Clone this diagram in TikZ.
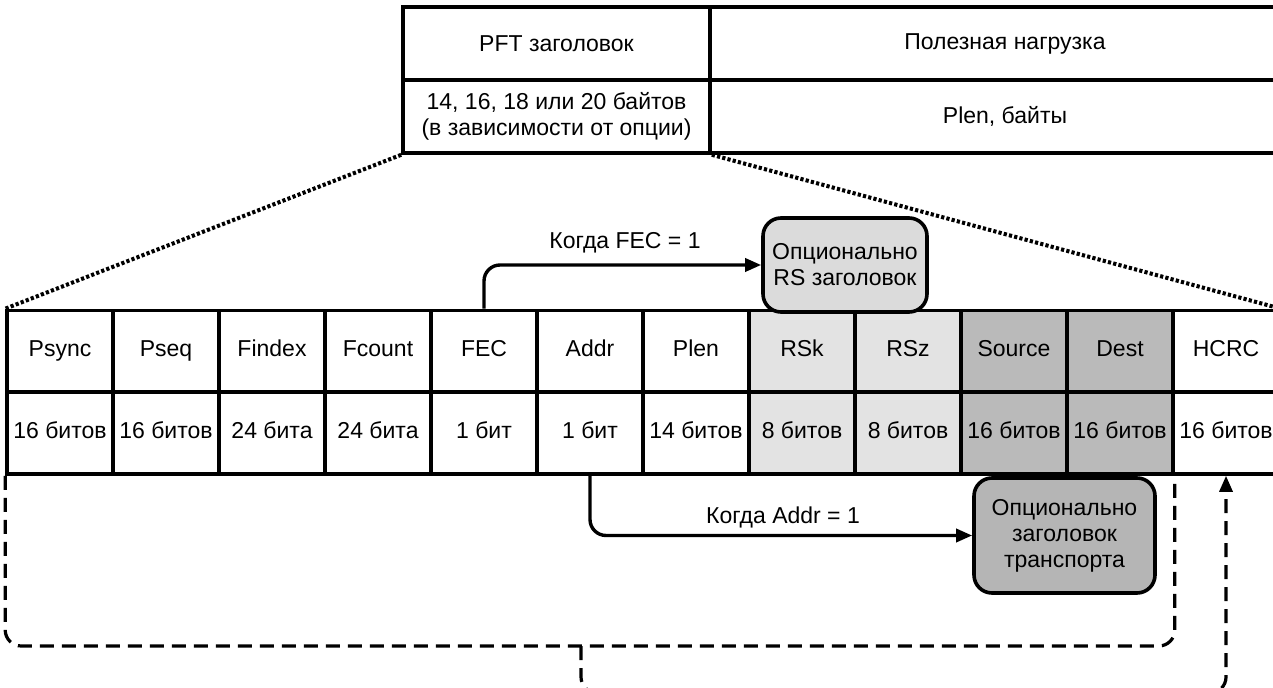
\documentclass[tikz,border=0pt]{standalone}
\usepackage{fontspec}
\setmainfont{Liberation Sans}
\usepackage{xcolor}
\usetikzlibrary{arrows.meta}
\definecolor{rscell}{gray}{0.89}
\definecolor{trcell}{gray}{0.73}
\definecolor{rsfill}{gray}{0.86}
\definecolor{trfill}{gray}{0.71}

\begin{document}
\begin{tikzpicture}[x=0.5pt,y=-0.5pt,
    font=\fontsize{11.5}{13}\selectfont,
    cell/.style={draw,line width=1.8pt,minimum width=53pt,minimum height=41pt,inner sep=0pt,align=center},
    field/.style={cell,text height=8pt,text depth=2.5pt},
    optbox/.style={draw,line width=1.8pt,rounded corners=9pt,inner sep=0pt,align=center},
    link/.style={line width=1.7pt,rounded corners=8pt,-{Triangle[length=8pt,width=6.5pt]}},
    bus/.style={line width=1.6pt,dash pattern=on 7pt off 4pt,rounded corners=8pt},
    zoomline/.style={line width=2pt,dash pattern=on 1.6pt off 1.1pt}]

    \useasboundingbox (0,0) rectangle (1273,688);
    \clip (0,0) rectangle (1273,688);

    % PFT packet
    \node[cell,minimum width=153.5pt,minimum height=36.5pt] (pft) at (556.5,43.5) {PFT заголовок};
    \node[cell,minimum width=153.5pt,minimum height=36.5pt] (pftlen) at (556.5,116.5) {14, 16, 18 или 20 байтов\\(в зависимости от опции)};
    \node[cell,minimum width=295pt,minimum height=36.5pt] (load) at (1005,43.5) {Полезная нагрузка};
    \node[cell,minimum width=295pt,minimum height=36.5pt] (loadlen) at (1005,116.5) {Plen, байты};

    % Header fields
    \foreach \i/\name/\bits/\col in {1/Psync/16 битов/white, 2/Pseq/16 битов/white,
        3/Findex/24 бита/white, 4/Fcount/24 бита/white, 5/FEC/1 бит/white,
        6/Addr/1 бит/white, 7/Plen/14 битов/white, 8/RSk/8 битов/rscell,
        9/RSz/8 битов/rscell, 10/Source/16 битов/trcell, 11/Dest/16 битов/trcell,
        12/HCRC/16 битов/white} {
        \node[field,fill=\col] (f\i) at ({7+106*(\i-0.5)},351.5) {\name};
        \node[field,fill=\col] (b\i) at ({7+106*(\i-0.5)},433) {\bits};
    }

    % Zoom lines
    \draw[zoomline] (pftlen.south west) -- (f1.north west);
    \draw[zoomline] (pftlen.south east) -- (f12.north east);

    % Optional headers
    \node[optbox,fill=rsfill,minimum width=82pt,minimum height=47pt] (rs) at (845,265) {Опционально\\RS заголовок};
    \node[optbox,fill=trfill,minimum width=90.5pt,minimum height=57.5pt] (tr) at (1064.5,535.5) {Опционально\\заголовок\\транспорта};

    \draw[link] (f5.north) |- (rs.west);
    \node at (625,243) {Когда FEC = 1};
    \draw[link] (b6.south) |- (tr.west);
    \node at (783,517) {Когда Addr = 1};

    % CRC coverage
    \coordinate (brk) at (581,646);
    \coordinate (crc) at (581,693);
    \draw[bus] (b1.south west) |- (brk) -| (b11.south east);
    \draw[bus,-{Triangle[length=8pt,width=6.5pt]}] (brk) -- (crc) -| (b12.south);
\end{tikzpicture}
\end{document}
